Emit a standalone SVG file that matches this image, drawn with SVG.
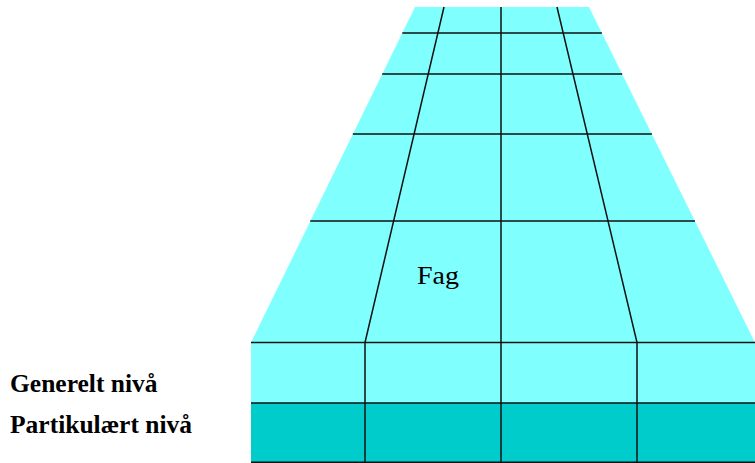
<svg xmlns="http://www.w3.org/2000/svg" width="755" height="463" viewBox="0 0 755 463">
  <style>
    .grid { stroke: #111; stroke-width: 1.5; fill: none; }
    .label { font-family: "Liberation Serif", "Times New Roman", serif; font-size: 25px; fill: #000; }
    .bold { font-weight: bold; font-size: 25.5px; }
  </style>
  <rect width="755" height="463" fill="#ffffff"/>
  <g id="fag">
    <polygon points="415,7 589,7 755,342.5 251,342.5" fill="#80FFFF"/>
    <text class="label" x="417" y="284" textLength="42" lengthAdjust="spacingAndGlyphs">Fag</text>
  </g>
  <g id="generelt-niva">
    <rect x="251" y="342.5" width="504" height="60.5" fill="#80FFFF"/>
  </g>
  <g id="partikulaert-niva">
    <rect x="251" y="403" width="504" height="60" fill="#00CCCC"/>
  </g>
  <g id="grid-lines" class="grid">
    <line x1="402.3" y1="33" x2="601.9" y2="33"/>
    <line x1="382.2" y1="74" x2="622.2" y2="74"/>
    <line x1="352.8" y1="134" x2="651.9" y2="134"/>
    <line x1="310.2" y1="221" x2="695" y2="221"/>
    <line x1="251" y1="342.5" x2="755" y2="342.5"/>
    <line x1="251" y1="403" x2="755" y2="403"/>
    <line x1="251" y1="462.3" x2="755" y2="462.3"/>
    <line x1="444" y1="7" x2="365" y2="342.5"/>
    <line x1="557" y1="7" x2="637" y2="342.5"/>
    <line x1="501" y1="7" x2="501" y2="463"/>
    <line x1="365" y1="342.5" x2="365" y2="463"/>
    <line x1="637" y1="342.5" x2="637" y2="463"/>
  </g>
  <g id="labels">
    <text class="label bold" x="10" y="392">Generelt nivå</text>
    <text class="label bold" x="10" y="433">Partikulært nivå</text>
  </g>
</svg>
